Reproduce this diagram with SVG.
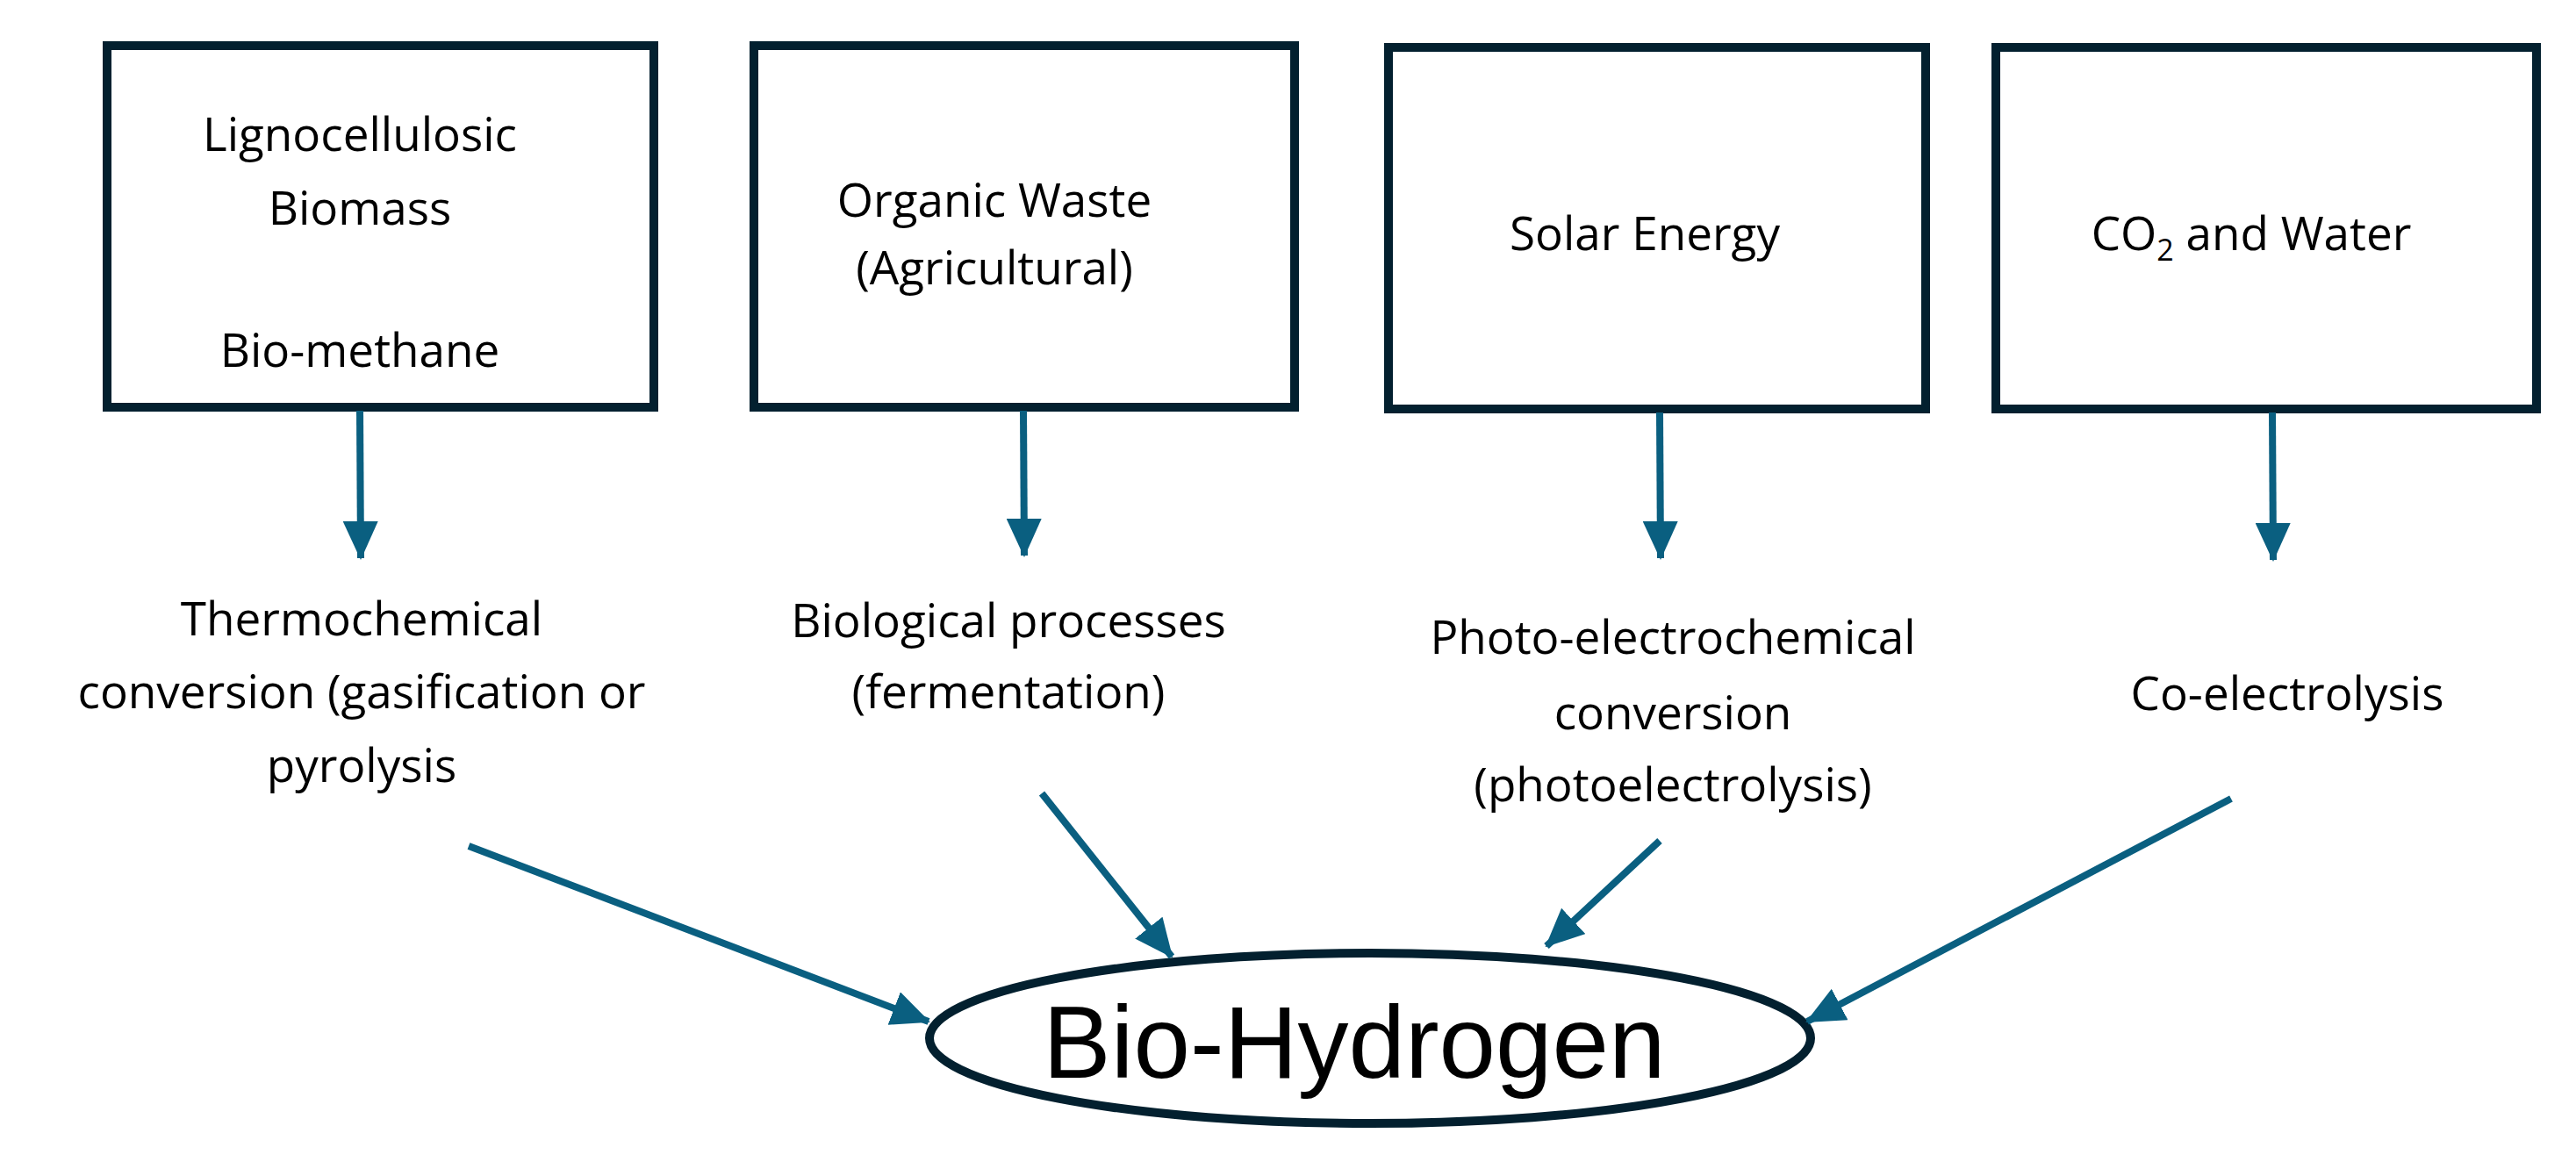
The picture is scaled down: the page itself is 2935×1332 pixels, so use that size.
<svg xmlns="http://www.w3.org/2000/svg" width="2935" height="1332" viewBox="0 0 2935 1332">
<style>
.box{fill:#fff;stroke:#03202f;stroke-width:10}
.t{font-family:"Open Sans","Noto Sans",sans-serif;font-size:53px;fill:#000;text-anchor:middle}
.c{stroke:#0a5f80;stroke-width:8;fill:none}
</style>
<defs>
<marker id="ah" markerUnits="userSpaceOnUse" markerWidth="44" markerHeight="40" refX="42" refY="20" orient="auto">
<path d="M0,0 L44,20 L0,40 Z" fill="#0a5f80"/>
</marker>
</defs>
<rect width="2935" height="1332" fill="#fff"/>
<g id="n1"><rect class="box" x="122" y="52" width="623" height="412"/>
<text class="t" x="410" y="172">Lignocellulosic</text><text class="t" x="410" y="256">Biomass</text><text class="t" x="410" y="418">Bio-methane</text></g>
<g id="n2"><rect class="box" x="859" y="52" width="616" height="412"/>
<text class="t" x="1133" y="247">Organic Waste</text><text class="t" x="1133" y="324">(Agricultural)</text></g>
<g id="n3"><rect class="box" x="1582" y="54" width="612" height="412"/>
<text class="t" x="1874" y="285">Solar Energy</text></g>
<g id="n4"><rect class="box" x="2274" y="54" width="616" height="412"/>
<text class="t" x="2565" y="285">CO<tspan font-size="34" dy="12">2</tspan><tspan dy="-12"> and Water</tspan></text></g>
<g id="p1"><text class="t" x="412" y="724">Thermochemical</text><text class="t" x="412" y="807">conversion (gasification or</text><text class="t" x="412" y="891">pyrolysis</text></g>
<g id="p2"><text class="t" x="1149" y="726">Biological processes</text><text class="t" x="1149" y="807">(fermentation)</text></g>
<g id="p3"><text class="t" x="1906" y="745">Photo-electrochemical</text><text class="t" x="1906" y="831">conversion</text><text class="t" x="1906" y="913">(photoelectrolysis)</text></g>
<g id="p4"><text class="t" x="2606" y="809">Co-electrolysis</text></g>
<g id="h2"><ellipse cx="1561" cy="1183" rx="502" ry="97" fill="#fff" stroke="#03202f" stroke-width="10"/>
<text x="1543" y="1228" font-family="Liberation Sans,Arial,sans-serif" font-size="116" text-anchor="middle">Bio-Hydrogen</text></g>
<g id="connectors">
<line class="c" x1="410" y1="468" x2="411" y2="636" marker-end="url(#ah)"/>
<line class="c" x1="1166" y1="468" x2="1167" y2="633" marker-end="url(#ah)"/>
<line class="c" x1="1891" y1="470" x2="1892" y2="636" marker-end="url(#ah)"/>
<line class="c" x1="2589" y1="470" x2="2590" y2="638" marker-end="url(#ah)"/>
<line class="c" x1="534" y1="964" x2="1058" y2="1164" marker-end="url(#ah)"/>
<line class="c" x1="1187" y1="904" x2="1335" y2="1090" marker-end="url(#ah)"/>
<line class="c" x1="1891" y1="958" x2="1762" y2="1078" marker-end="url(#ah)"/>
<line class="c" x1="2542" y1="910" x2="2059" y2="1164" marker-end="url(#ah)"/>
</g>
</svg>
